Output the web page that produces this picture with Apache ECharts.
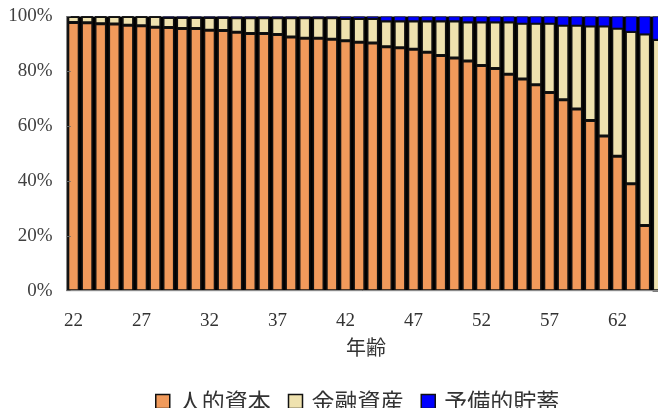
<!DOCTYPE html>
<html>
<head>
<meta charset="utf-8">
<script src="https://cdn.jsdelivr.net/npm/echarts@6.0.0/dist/echarts.min.js"></script>
<style>
  html, body { margin: 0; padding: 0; background: #fff; overflow: hidden; }
  #chart { width: 658px; height: 408px; }
</style>
</head>
<body>
<div id="chart"></div>
<script>
// 年齢（22〜65歳）
const ages = ['22','23','24','25','26','27','28','29','30','31','32','33','34','35','36','37','38','39','40','41','42','43','44','45','46','47','48','49','50','51','52','53','54','55','56','57','58','59','60','61','62','63','64','65'];

// 人的資本の割合（%）
const humanCapital = [97.8,97.7,97.4,97.3,96.8,96.6,96.1,96.0,95.6,95.6,95.0,94.9,94.3,93.8,93.8,93.4,92.5,92.1,92.1,91.7,91.2,90.6,90.3,89.0,88.6,88.1,87.0,85.8,84.9,83.8,82.1,81.0,78.9,77.2,75.1,72.3,69.6,66.3,62.1,56.4,49.0,39.0,23.8,0];

// 金融資産の割合（%）
const financialAssets = [2.2,2.3,2.6,2.7,3.2,3.4,3.9,3.6,4.0,4.0,4.6,4.7,5.2,5.7,5.7,6.1,7.0,7.4,7.4,7.8,8.1,8.7,9.0,9.4,9.8,10.3,11.4,12.6,13.5,14.2,15.9,17.0,19.1,20.3,22.4,25.2,27.2,30.5,34.4,40.1,46.7,55.5,69.8,91.6];

// 予備的貯蓄の割合（%）
const precautionarySavings = [0,0,0,0,0,0,0,0.4,0.4,0.4,0.4,0.4,0.5,0.5,0.5,0.5,0.5,0.5,0.5,0.5,0.7,0.7,0.7,1.6,1.6,1.6,1.6,1.6,1.6,2.0,2.0,2.0,2.0,2.5,2.5,2.5,3.2,3.2,3.5,3.5,4.3,5.5,6.4,8.4];

const yTicks = [0, 20, 40, 60, 80, 100];

const seriesNames = ['人的資本', '金融資産', '予備的貯蓄'];
const seriesColors = ['#F19A5B', '#EFE2AF', '#0000FF'];
const seriesData = [humanCapital, financialAssets, precautionarySavings];

const digitFont = "'Liberation Serif', 'DejaVu Serif', serif";
const cjkFont = "'Noto Sans CJK JP', 'Noto Sans CJK SC', sans-serif";

const chart = echarts.init(document.getElementById('chart'), null, { renderer: 'canvas' });

chart.setOption({
  animation: false,
  backgroundColor: '#ffffff',
  grid: {
    left: 66.7,
    top: 16.5,
    width: 598.4,
    height: 274.2,
    outerBoundsMode: 'none',
    containLabel: false,
    show: true,
    backgroundColor: '#000000',
    borderColor: '#8a8a8a',
    borderWidth: 1
  },
  legend: {
    data: seriesNames,
    left: 150,
    top: 385,
    itemWidth: 14,
    itemHeight: 14,
    itemGap: 17,
    icon: 'rect',
    itemStyle: { borderColor: '#111111', borderWidth: 1.5 },
    textStyle: {
      fontFamily: cjkFont,
      fontSize: 23,
      color: '#333333',
      padding: [0, 0, 0, 4]
    }
  },
  xAxis: {
    type: 'category',
    data: ages,
    name: '年齢',
    nameLocation: 'middle',
    nameGap: 47,
    nameTextStyle: {
      fontFamily: cjkFont,
      fontSize: 20,
      color: '#333333',
      verticalAlign: 'top'
    },
    axisLine: { lineStyle: { color: '#8a8a8a', width: 1 } },
    axisTick: { show: false },
    axisLabel: {
      interval: 4,
      margin: 21,
      fontFamily: digitFont,
      fontSize: 19,
      color: '#333333'
    },
    z: 5
  },
  yAxis: {
    type: 'value',
    min: yTicks[0],
    max: yTicks[yTicks.length - 1],
    interval: 20,
    axisLine: { show: true, lineStyle: { color: '#8a8a8a', width: 1 } },
    axisTick: { show: true, inside: true, length: 4, lineStyle: { color: '#666666' } },
    splitLine: { show: false },
    axisLabel: {
      margin: 14,
      fontFamily: digitFont,
      fontSize: 19,
      color: '#404040',
      formatter: '{value}%'
    },
    z: 5
  },
  series: seriesNames.map((name, i) => ({
    name: name,
    type: 'bar',
    stack: 'share',
    data: seriesData[i],
    barWidth: '84%',
    itemStyle: {
      color: seriesColors[i],
      borderColor: '#111111',
      borderWidth: i === 2 ? 0.6 : 1.5
    }
  }))
});
</script>
</body>
</html>
